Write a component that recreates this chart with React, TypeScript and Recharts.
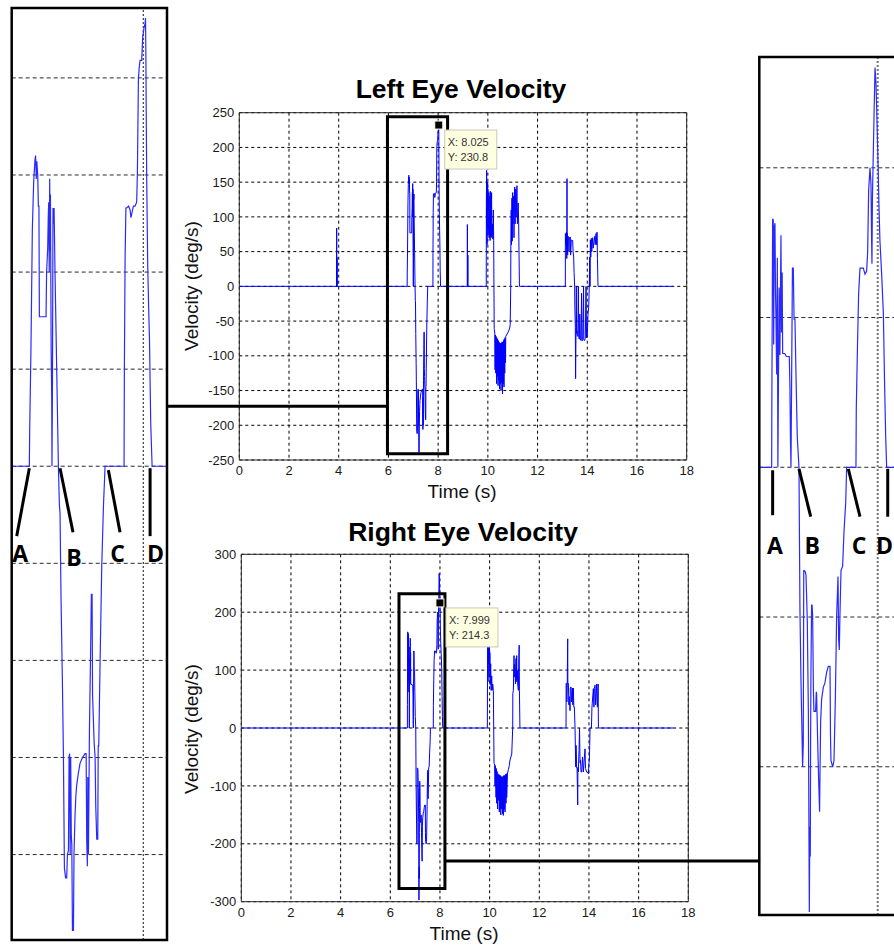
import React from 'react';
import {
  LineChart,
  Line,
  XAxis,
  YAxis,
  CartesianGrid,
  ReferenceArea,
  ReferenceLine,
  ReferenceDot,
} from 'recharts';

type Pt = [number, number];

// ---------- tick labels / grid values ----------
const timeTicks = [0, 2, 4, 6, 8, 10, 12, 14, 16, 18];
const leftVelocityTicks = [-250, -200, -150, -100, -50, 0, 50, 100, 150, 200, 250];
const rightVelocityTicks = [-300, -200, -100, 0, 100, 200, 300];
const leftInsetGrid = [-200, -150, -100, -50, 0, 50, 100, 150, 200];
const rightInsetGrid = [-200, -100, 0, 100, 200];

// ---------- left eye velocity (time s, deg/s) ----------
const leftEyeBlip4: Pt[] = [[3.912, 0], [3.918, 84], [3.924, 2], [3.930, 42], [3.938, 38], [3.944, 0]];

const leftEyeSaccadeA: Pt[] = [
  [6.753, 0], [6.757, 19], [6.771, 61], [6.786, 122], [6.801, 147], [6.815, 158], [6.822, 160], [6.829, 148],
  [6.835, 157], [6.845, 150], [6.852, 134], [6.858, 134], [6.863, 77], [6.900, 77], [6.936, 77], [6.942, 100],
  [6.954, 112], [6.960, 128], [6.965, 136], [6.971, 100], [6.976, 148], [6.980, 111], [6.984, 140], [6.988, 100],
  [6.992, 60], [6.998, 35], [7.001, 0], [7.006, 40], [7.012, 133], [7.018, 125], [7.024, 133], [7.034, 100],
  [7.053, 49], [7.071, 0], [7.082, -20], [7.089, -24], [7.100, -68], [7.115, -111], [7.126, -148], [7.137, -207],
  [7.150, -212], [7.162, -212], [7.170, -200], [7.181, -198], [7.188, -150], [7.194, -148], [7.200, -200],
  [7.206, -150], [7.212, -190], [7.218, -195], [7.225, -239], [7.236, -239], [7.242, -200], [7.253, -180],
  [7.262, -170], [7.272, -164], [7.290, -158], [7.308, -153], [7.335, -150], [7.363, -148], [7.375, -148],
  [7.381, -192], [7.388, -206], [7.393, -160], [7.400, -200], [7.411, -136], [7.425, -91], [7.432, -66],
  [7.440, -66], [7.445, -118], [7.454, -130], [7.462, -142], [7.473, -150], [7.480, -175], [7.491, -192],
  [7.502, -192], [7.507, -144], [7.513, -144], [7.527, -102], [7.546, -51], [7.564, -21], [7.582, 0],
  [7.790, 0], [7.793, 47], [7.801, 106], [7.810, 133], [7.819, 133], [7.840, 134], [7.856, 132], [7.865, 128],
  [7.874, 130], [7.892, 134], [7.910, 134], [7.928, 136], [7.936, 151], [7.947, 199], [7.955, 205], [7.965, 209],
  [7.983, 209], [7.994, 221], [8.009, 226], [8.020, 228], [8.025, 230.8], [8.029, 210], [8.033, 180],
  [8.038, 147], [8.049, 103], [8.060, 80], [8.068, 66], [8.082, 22], [8.097, 0],
];

const leftEyeBlip9: Pt[] = [[9.172, 0], [9.176, 89], [9.180, 0], [9.192, 0], [9.196, 45], [9.200, 0]];

const leftEyeSaccadeB: Pt[] = [
  [9.935, 0], [9.940, 120], [9.950, 167], [9.955, 90], [9.962, 140], [9.968, 60], [9.975, 130], [9.980, 85],
  [9.990, 150], [9.995, 100], [10.000, 140], [10.010, 75], [10.020, 125], [10.030, 80], [10.040, 135],
  [10.050, 70], [10.060, 110], [10.070, 75], [10.080, 130], [10.090, 66], [10.100, 137], [10.110, 72],
  [10.120, 100], [10.130, 70], [10.150, 135], [10.160, 72], [10.180, 90], [10.200, 68], [10.220, 110],
  [10.235, 66], [10.245, 0], [10.255, -61], [10.260, -62], [10.280, -68], [10.290, -120], [10.300, -70],
  [10.320, -125], [10.330, -72], [10.350, -140], [10.360, -74], [10.380, -130], [10.390, -76], [10.410, -143],
  [10.420, -78], [10.440, -135], [10.450, -80], [10.470, -148], [10.480, -82], [10.500, -140], [10.510, -82],
  [10.530, -150], [10.540, -82], [10.560, -138], [10.570, -80], [10.590, -155], [10.600, -80], [10.620, -140],
  [10.630, -78], [10.650, -145], [10.660, -76], [10.680, -125], [10.690, -74], [10.710, -110], [10.720, -72],
  [10.750, -70], [10.800, -67], [10.850, -63], [10.880, -60], [10.900, -55], [10.920, 0], [10.925, 62],
  [10.940, 110], [10.950, 60], [10.970, 127], [10.980, 65], [11.000, 135], [11.010, 90], [11.040, 130],
  [11.050, 70], [11.080, 143], [11.100, 90], [11.120, 140], [11.140, 100], [11.170, 145], [11.190, 90],
  [11.220, 120], [11.240, 90], [11.270, 0],
];

const leftEyeSaccadeC: Pt[] = [
  [13.117, 0], [13.120, 76], [13.140, 60], [13.160, 78], [13.175, 40], [13.184, 155], [13.190, 60],
  [13.200, 76], [13.211, 45], [13.230, 72], [13.251, 71], [13.265, 50], [13.278, 70], [13.300, 71],
  [13.318, 71], [13.330, 45], [13.358, 67], [13.380, 66], [13.412, 66], [13.430, 50], [13.452, 42],
  [13.470, 20], [13.492, 0], [13.500, -30], [13.519, -59], [13.530, -133], [13.546, -64], [13.560, 0],
  [13.570, -68], [13.586, -64], [13.600, -72], [13.620, -70], [13.640, 0], [13.660, -74], [13.680, -76],
  [13.700, -40], [13.720, -76], [13.750, -78], [13.770, -10], [13.790, -78], [13.820, -78], [13.850, 0],
  [13.860, -76], [13.890, -78], [13.920, -75], [13.950, 0], [13.970, -74], [14.000, -72], [14.030, -40],
  [14.057, -30], [14.080, 0], [14.097, 42], [14.110, 0], [14.124, 67], [14.140, 42], [14.164, 69],
  [14.180, 50], [14.218, 70], [14.240, 55], [14.298, 72], [14.320, 60], [14.352, 76], [14.380, 60],
  [14.392, 78], [14.410, 40], [14.432, 0],
];

// ---------- right eye velocity (time s, deg/s) ----------
const rightEyeSaccadeA: Pt[] = [
  [6.688, 0], [6.690, 41], [6.700, 166], [6.708, 165], [6.713, 82], [6.720, 160], [6.729, 163], [6.735, 120],
  [6.741, 100], [6.750, 62], [6.758, 140], [6.765, 0], [6.780, 120], [6.790, 75], [6.803, 155], [6.810, 90],
  [6.818, 130], [6.824, 76], [6.850, 76], [6.870, 74], [6.906, 74], [6.914, 54], [6.920, 20], [6.927, 0],
  [6.945, 133], [6.956, 133], [6.965, 99], [6.976, 99], [6.989, 62], [7.005, 20], [7.026, 0], [7.038, -95],
  [7.050, -140], [7.059, -166], [7.071, -200], [7.079, -185], [7.085, -69], [7.092, -69], [7.105, -70],
  [7.113, -72], [7.129, -103], [7.142, -163], [7.150, -250], [7.154, -297], [7.160, -240], [7.166, -260],
  [7.170, -180], [7.174, -137], [7.182, -92], [7.188, -92], [7.195, -99], [7.205, -150], [7.211, -163],
  [7.232, -163], [7.240, -150], [7.244, -151], [7.256, -180], [7.269, -208], [7.281, -230], [7.287, -200],
  [7.294, -170], [7.306, -155], [7.327, -147], [7.347, -144], [7.368, -137], [7.389, -133], [7.410, -133],
  [7.416, -180], [7.422, -196], [7.443, -200], [7.459, -196], [7.476, -155], [7.492, -99], [7.509, -73],
  [7.517, -115], [7.525, -122], [7.533, -99], [7.546, -69], [7.566, -66], [7.583, -43], [7.604, -24],
  [7.616, 0], [7.731, 0], [7.735, 39], [7.748, 76], [7.764, 116], [7.781, 133], [7.822, 133], [7.843, 129],
  [7.863, 131], [7.876, 144], [7.888, 185], [7.905, 200], [7.917, 189], [7.925, 150], [7.929, 136],
  [7.935, 180], [7.942, 200], [7.954, 233], [7.967, 267], [7.979, 256], [7.991, 233], [7.999, 214.3],
  [8.004, 204], [8.016, 174], [8.028, 151], [8.049, 129], [8.070, 103], [8.086, 54], [8.099, 20], [8.111, 0],
];

const rightEyeSaccadeB: Pt[] = [
  [9.909, 0], [9.915, 100], [9.925, 169], [9.935, 80], [9.949, 168], [9.960, 111], [9.970, 150], [9.980, 88],
  [9.989, 140], [10.000, 100], [10.010, 130], [10.020, 75], [10.043, 111], [10.060, 65], [10.083, 90],
  [10.100, 65], [10.124, 76], [10.150, 65], [10.165, 0], [10.177, -61], [10.200, -62], [10.217, -100],
  [10.230, -65], [10.258, -120], [10.270, -70], [10.284, -130], [10.300, -75], [10.320, -140], [10.335, -79],
  [10.352, -125], [10.370, -80], [10.390, -145], [10.400, -82], [10.419, -140], [10.435, -82], [10.450, -150],
  [10.465, -84], [10.486, -140], [10.500, -84], [10.520, -148], [10.535, -84], [10.553, -151], [10.570, -82],
  [10.590, -140], [10.605, -82], [10.620, -145], [10.640, -80], [10.660, -130], [10.675, -79], [10.687, -120],
  [10.720, -78], [10.754, -72], [10.790, -65], [10.822, -55], [10.890, -45], [10.929, 0], [10.935, 60],
  [10.956, 65], [10.970, 100], [10.983, 125], [10.990, 88], [11.003, 110], [11.023, 100], [11.040, 76],
  [11.060, 120], [11.075, 80], [11.090, 125], [11.100, 88], [11.117, 99], [11.130, 76], [11.157, 65],
  [11.175, 120], [11.190, 143], [11.200, 65], [11.220, 0],
];

const rightEyeSaccadeC: Pt[] = [
  [13.077, 0], [13.080, 77], [13.104, 77], [13.110, 45], [13.125, 76], [13.144, 154], [13.150, 76],
  [13.171, 77], [13.190, 40], [13.211, 54], [13.238, 30], [13.250, 70], [13.278, 71], [13.300, 45],
  [13.332, 69], [13.350, 40], [13.372, 69], [13.390, 36], [13.412, 36], [13.439, 0], [13.466, -67],
  [13.480, -30], [13.506, -69], [13.520, -68], [13.547, -133], [13.555, -69], [13.574, -76], [13.590, -50],
  [13.601, -39], [13.620, 0], [13.641, -60], [13.660, -56], [13.681, -76], [13.708, -76], [13.740, -50],
  [13.775, -76], [13.800, -60], [13.842, -36], [13.860, -70], [13.909, -76], [13.940, -76], [13.976, -79],
  [14.000, -60], [14.016, -56], [14.030, -30], [14.043, 0], [14.100, 0], [14.120, 36], [14.177, 68],
  [14.200, 36], [14.217, 68], [14.244, 74], [14.270, 40], [14.311, 76], [14.340, 36], [14.370, 76], [14.380, 0],
];

const leftEyeEnd = 17.45;
const rightEyeEnd = 17.42;

// ---------- annotations (data units) ----------
const leftZoomBox = { t1: 5.96, t2: 8.38, v1: -241, v2: 244 };
const leftConnector = { t1: -2.91, t2: 5.96, v: -172.5 };
const leftTip = { t: 8.025, v: 230.8 };

const rightZoomBox = { t1: 6.35, t2: 8.2, v1: -277, v2: 232 };
const rightConnector = { t1: 8.2, t2: 20.89, v: -229.7 };
const rightTip = { t: 7.999, v: 214.3 };

const leftInsetTime = [6.56, 8.26];
const leftInsetVel = [-244, 236];
const rightInsetTime = [6.535, 8.276];
const rightInsetVel = [-299, 274];

const phaseLabels = ['A', 'B', 'C', 'D'];
const leftInsetPointers = [
  { t1: 6.753, v1: -1, t2: 6.615, v2: -36 },
  { t1: 7.089, v1: -1, t2: 7.231, v2: -34 },
  { t1: 7.618, v1: -2, t2: 7.746, v2: -34 },
  { t1: 8.075, v1: -1, t2: 8.075, v2: -36 },
];
const leftInsetLetterT = [6.654, 7.242, 7.719, 8.133];
const leftInsetLetterV = [-49.4, -51.5, -49.4, -49.4];

const rightInsetPointers = [
  { t1: 6.7, v1: -2, t2: 6.7, v2: -32 },
  { t1: 7.026, v1: -1, t2: 7.171, v2: -33 },
  { t1: 7.636, v1: -1, t2: 7.781, v2: -33 },
  { t1: 8.124, v1: -1, t2: 8.124, v2: -33 },
];
const rightInsetLetterT = [6.729, 7.189, 7.769, 8.083];
const rightInsetLetterV = [-58, -58, -58, -58];

// ---------- build rows ----------
const toRows = (segments: Pt[][], end: number) => {
  const pts: Pt[] = [[0, 0], ...segments.flat(), [end, 0]];
  return pts.map(([t, v]) => ({ t, v }));
};
const leftEyeData = toRows([leftEyeBlip4, leftEyeSaccadeA, leftEyeBlip9, leftEyeSaccadeB, leftEyeSaccadeC], leftEyeEnd);
const rightEyeData = toRows([rightEyeSaccadeA, rightEyeSaccadeB, rightEyeSaccadeC], rightEyeEnd);

const FONT = "'Liberation Sans', Arial, Helvetica, sans-serif";
const LETTER_FONT = "'Open Sans', 'Noto Sans', sans-serif";
const tickStyle = { fontSize: 13, fill: '#1a1a1a', fontFamily: FONT };

const DataTipShape = (props: any) => {
  const { cx, cy, tip } = props;
  if (cx == null || cy == null) return null;
  return (
    <g>
      <rect x={cx - 4} y={cy - 5} width={8} height={8} fill="#000" stroke="#fffbe0" strokeWidth={1} />
      <rect x={cx + 6} y={cy + 4} width={52} height={39} fill="#ffffe1" stroke="#c9c9b8" strokeWidth={1} />
      <text x={cx + 9} y={cy + 20} fontSize={11} fill="#333" fontFamily={FONT}>
        {`X: ${tip.t.toFixed(3)}`}
      </text>
      <text x={cx + 9} y={cy + 35} fontSize={11} fill="#333" fontFamily={FONT}>
        {`Y: ${tip.v.toFixed(1)}`}
      </text>
    </g>
  );
};

function MainPanel(props: any) {
  const { left, top, width, height, margin, data, yTicks, box, connector, tip } = props;
  const yDomain = [yTicks[0], yTicks[yTicks.length - 1]];
  return (
    <div style={{ position: 'absolute', left, top }}>
      <LineChart width={width} height={height} margin={margin} data={data}>
        <CartesianGrid stroke="#000" strokeDasharray="3 3" strokeWidth={1} />
        <XAxis
          dataKey="t"
          type="number"
          domain={[0, 18]}
          ticks={timeTicks}
          interval={0}
          allowDataOverflow
          height={30}
          axisLine={false}
          tickLine={false}
          tickSize={3}
          tickMargin={3}
          tick={tickStyle}
        />
        <YAxis
          type="number"
          domain={yDomain}
          ticks={yTicks}
          interval={0}
          allowDataOverflow
          width={40}
          axisLine={false}
          tickLine={false}
          tickSize={3}
          tickMargin={2}
          tick={tickStyle}
        />
        <Line dataKey="v" type="linear" stroke="#0000ff" strokeWidth={1} dot={false} activeDot={false} isAnimationActive={false} />
        <ReferenceArea x1={0} x2={18} y1={yDomain[0]} y2={yDomain[1]} fill="none" fillOpacity={0} stroke="#2a2a2a" strokeWidth={1} zIndex={1500} />
        <ReferenceArea x1={box.t1} x2={box.t2} y1={box.v1} y2={box.v2} fill="none" fillOpacity={0} stroke="#000" strokeWidth={3} ifOverflow="visible" zIndex={1500} />
        <ReferenceLine
          segment={[{ x: connector.t1, y: connector.v }, { x: connector.t2, y: connector.v }]}
          stroke="#000"
          strokeWidth={3}
          ifOverflow="visible"
          zIndex={1500}
        />
        <ReferenceDot x={tip.t} y={tip.v} r={4} ifOverflow="visible" zIndex={1600} shape={(p: any) => <DataTipShape {...p} tip={tip} />} />
      </LineChart>
    </div>
  );
}

function InsetPanel(props: any) {
  const { left, top, width, height, margin, data, tDomain, vDomain, grid, pointers, letterT, letterV, dotColor, dotWidth } = props;
  return (
    <div style={{ position: 'absolute', left, top }}>
      <LineChart width={width} height={height} margin={margin} data={data}>
        <XAxis dataKey="t" type="number" domain={tDomain} allowDataOverflow hide />
        <YAxis type="number" domain={vDomain} allowDataOverflow hide />
        {grid.map((v: number) => (
          <ReferenceLine key={`g${v}`} y={v} stroke="#111" strokeDasharray="4 3" strokeWidth={0.9} />
        ))}
        <ReferenceLine x={8} stroke={dotColor} strokeDasharray="2 2" strokeWidth={dotWidth} />
        <Line dataKey="v" type="linear" stroke="#2a2aff" strokeWidth={1.2} dot={false} activeDot={false} isAnimationActive={false} />
        <ReferenceArea x1={tDomain[0]} x2={tDomain[1]} y1={vDomain[0]} y2={vDomain[1]} fill="none" fillOpacity={0} stroke="#000" strokeWidth={2.5} ifOverflow="visible" zIndex={1500} />
        {pointers.map((p: any, i: number) => (
          <ReferenceLine
            key={`p${i}`}
            segment={[{ x: p.t1, y: p.v1 }, { x: p.t2, y: p.v2 }]}
            stroke="#000"
            strokeWidth={3}
            ifOverflow="visible"
            zIndex={1500}
          />
        ))}
        {phaseLabels.map((lab, i) => (
          <ReferenceDot
            key={`l${lab}`}
            x={letterT[i]}
            y={letterV[i]}
            r={1}
            ifOverflow="visible"
            zIndex={1600}
            shape={(s: any) => (
              <text x={s.cx} y={s.cy} textAnchor="middle" fontFamily={LETTER_FONT} fontWeight={700} fontSize={23} fill="#000">
                {lab}
              </text>
            )}
          />
        ))}
      </LineChart>
    </div>
  );
}

export default function App() {
  return (
    <div style={{ position: 'absolute', left: 0, top: 0, width: 894, height: 945, overflow: 'hidden', background: '#fff' }}>
      <InsetPanel
        left={0}
        top={0}
        width={180}
        height={945}
        margin={{ top: 8, right: 13, bottom: 5, left: 11.7 }}
        data={leftEyeData}
        tDomain={leftInsetTime}
        vDomain={leftInsetVel}
        grid={leftInsetGrid}
        pointers={leftInsetPointers}
        letterT={leftInsetLetterT}
        letterV={leftInsetLetterV}
        dotColor="#111"
        dotWidth={1}
      />
      <InsetPanel
        left={750}
        top={40}
        width={160}
        height={890}
        margin={{ top: 17, right: 10, bottom: 15, left: 9.3 }}
        data={rightEyeData}
        tDomain={rightInsetTime}
        vDomain={rightInsetVel}
        grid={rightInsetGrid}
        pointers={rightInsetPointers}
        letterT={rightInsetLetterT}
        letterV={rightInsetLetterV}
        dotColor="#777"
        dotWidth={2}
      />
      <MainPanel
        left={160}
        top={100}
        width={540}
        height={400}
        margin={{ top: 12.7, right: 13.3, bottom: 10, left: 39.3 }}
        data={leftEyeData}
        yTicks={leftVelocityTicks}
        box={leftZoomBox}
        connector={leftConnector}
        tip={leftTip}
      />
      <MainPanel
        left={160}
        top={540}
        width={610}
        height={400}
        margin={{ top: 14.3, right: 81.7, bottom: 8.3, left: 41.3 }}
        data={rightEyeData}
        yTicks={rightVelocityTicks}
        box={rightZoomBox}
        connector={rightConnector}
        tip={rightTip}
      />
      <svg width={894} height={945} style={{ position: 'absolute', left: 0, top: 0, pointerEvents: 'none' }}>
        <text x={461} y={98} textAnchor="middle" fontSize={26.5} fontWeight={700} fontFamily={FONT} fill="#000">
          Left Eye Velocity
        </text>
        <text x={463} y={541} textAnchor="middle" fontSize={26.5} fontWeight={700} fontFamily={FONT} fill="#000">
          Right Eye Velocity
        </text>
        <text transform="translate(198,286) rotate(-90)" textAnchor="middle" fontSize={19} fontFamily={FONT} fill="#111">
          Velocity (deg/s)
        </text>
        <text transform="translate(198,729) rotate(-90)" textAnchor="middle" fontSize={19} fontFamily={FONT} fill="#111">
          Velocity (deg/s)
        </text>
        <text x={462} y={498} textAnchor="middle" fontSize={19} fontFamily={FONT} fill="#111">
          Time (s)
        </text>
        <text x={464} y={940} textAnchor="middle" fontSize={19} fontFamily={FONT} fill="#111">
          Time (s)
        </text>
      </svg>
    </div>
  );
}
